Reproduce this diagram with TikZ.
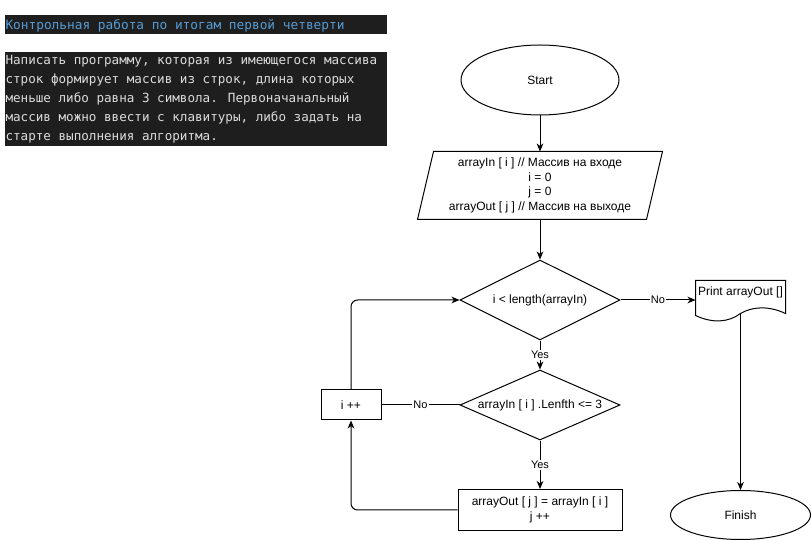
\documentclass[tikz,border=0pt]{standalone}
\usepackage{fontspec}
\setmainfont{Liberation Sans}
\newfontfamily\codefont{DejaVu Sans Mono}
\usetikzlibrary{shapes.geometric,arrows.meta,calc}
\definecolor{codebg}{HTML}{1E1E1E}
\definecolor{codetitle}{HTML}{569CD6}
\definecolor{codetext}{HTML}{DCDCDC}
\begin{document}
\begin{tikzpicture}[x=0.75pt,y=-0.75pt,
  line width=0.75pt,
  every node/.style={font=\fontsize{9}{10.9}\selectfont},
  term/.style={ellipse,draw,inner sep=0pt},
  dec/.style={diamond,draw,inner sep=0pt},
  proc/.style={rectangle,draw,inner sep=0pt,align=center},
  conn/.style={-{Stealth[length=6pt,width=5pt,inset=1.8pt]}},
  lbl/.style={fill=white,inner sep=1pt,font=\fontsize{8.25}{9}\selectfont},
  codeline/.style={anchor=base west,inner sep=0pt,text=codetext,font=\codefont\fontsize{9.45}{14.25}\selectfont},
]
\fill[white] (0,0) rectangle (811,541);
\useasboundingbox (0,0) rectangle (811,541);

% code blocks
\fill[codebg] (5,15) rectangle (387,34);
\node[codeline,text=codetitle,font=\codefont\fontsize{9.6}{14.25}\selectfont] (title) at (5,30) {Контрольная работа по итогам первой четверти};
\fill[codebg] (5,52) rectangle (387,146);
\node[codeline] (p1) at (5,65) {Написать программу, которая из имеющегося массива};
\node[codeline] (p2) at (5,84) {строк формирует массив из строк, длина которых};
\node[codeline] (p3) at (5,103) {меньше либо равна 3 символа. Первоначанальный};
\node[codeline] (p4) at (5,122) {массив можно ввести с клавитуры, либо задать на};
\node[codeline] (p5) at (5,141) {старте выполнения алгоритма.};

% flowchart nodes
\node[term,minimum width=118.5pt,minimum height=52.5pt] (start) at (540,80) {Start};
\node[rectangle,inner sep=0pt,align=center,minimum width=171pt,minimum height=50.25pt] (inp) at (540,185.5)
  {arrayIn [ i ] // Массив на входе\\ i = 0\\ j = 0\\ arrayOut [ j ] // Массив на выходе};
\draw ($(inp.north west)+(8,0)$) -- ($(inp.north east)+(8,0)$) -- ($(inp.south east)+(-8,0)$) -- ($(inp.south west)+(-8,0)$) -- cycle;
\node[dec,aspect=2,minimum width=120pt,minimum height=60pt] (d1) at (540,300) {i < length(arrayIn)};
\node[dec,aspect=2.2857,minimum width=120pt,minimum height=52.5pt] (d2) at (540,405) {arrayIn [ i ] .Lenfth <= 3};
\node[proc,minimum width=123pt,minimum height=30.75pt] (out) at (540,510) {arrayOut [ j ] = arrayIn [ i ]\\ j ++};
\node[proc,minimum width=45pt,minimum height=22.5pt] (inc) at (351,405) {i ++};
\node[rectangle,inner sep=0pt,minimum width=66.75pt,minimum height=16.5pt] (doc) at (740.5,292) {Print arrayOut []};
\draw (doc.north west) -- (doc.north east) -- ($(doc.south east)+(0,10)$)
  .. controls ($(doc.south east)+(-17,2)$) and ($(doc.south east)+(-33,3)$) .. ($(doc.south)+(0,10)$)
  .. controls ($(doc.south)+(-12,19)$) and ($(doc.south)+(-28,20)$) .. ($(doc.south west)+(0,12)$) -- cycle;
\coordinate (docb) at ($(doc.south)+(0,9.5)$);
\node[term,minimum width=105pt,minimum height=36.75pt] (fin) at (740.5,515) {Finish};

% connectors
\draw[conn] (start) -- (inp);
\draw[conn] (inp) -- (d1);
\draw[conn] (d1) -- node[lbl]{Yes} (d2);
\draw[conn] (d2) -- node[lbl]{Yes} (out);
\draw[conn] (d1.east) -- node[lbl]{No} (d1.east -| doc.west);
\draw (d2) -- node[lbl]{No} (inc);
\draw[conn] (docb) -- (fin);
\draw[conn,rounded corners=5pt] (inc.north) |- (d1.west);
\draw[conn,rounded corners=5pt] (out.west) -| (inc.south);
\end{tikzpicture}
\end{document}
